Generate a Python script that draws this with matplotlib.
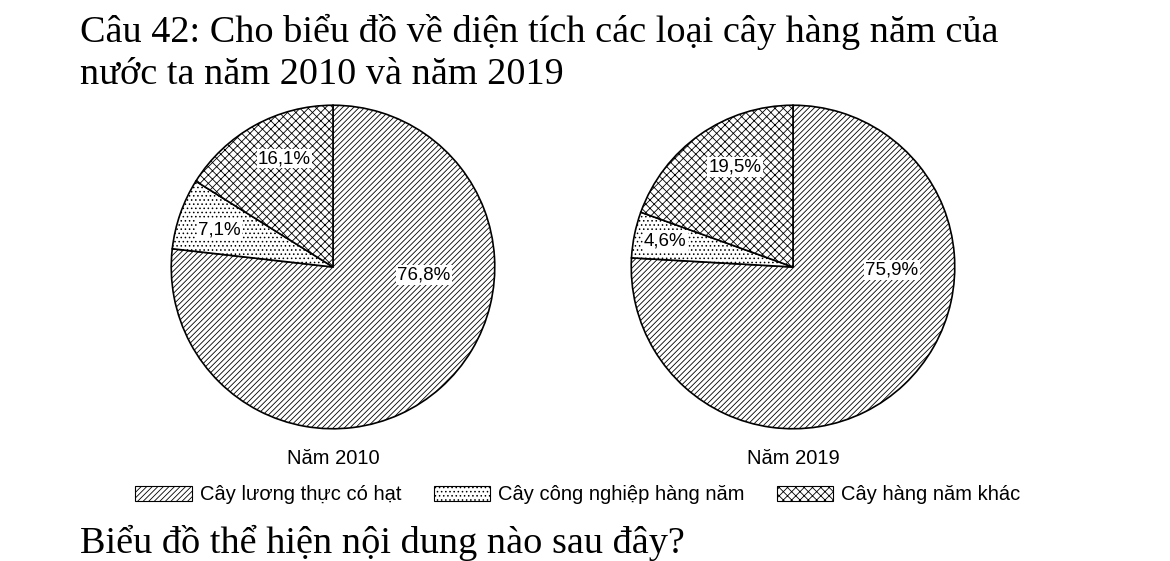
import matplotlib.pyplot as plt
import matplotlib.patches as mpatches

plt.rcParams['hatch.linewidth'] = 0.6

categories = ['Cây lương thực có hạt', 'Cây công nghiệp hàng năm', 'Cây hàng năm khác']
years = ['Năm 2010', 'Năm 2019']
values_2010 = [76.8, 7.1, 16.1]
values_2019 = [75.9, 4.6, 19.5]
labels_2010 = ['76,8%', '7,1%', '16,1%']
labels_2019 = ['75,9%', '4,6%', '19,5%']

hatches = ['//////', '....', 'xxxx']
# label positions in pie radius units
label_pos_2010 = [(0.56, -0.05), (-0.70, 0.23), (-0.30, 0.67)]
label_pos_2019 = [(0.61, -0.02), (-0.79, 0.16), (-0.36, 0.62)]

fig = plt.figure(figsize=(11.7, 5.61), dpi=100)

fig.text(80 / 1170, 1 - 32 / 561, 'Câu 42: Cho biểu đồ về diện tích các loại cây hàng năm của',
         family='Liberation Serif', fontsize=27.5, va='center')
fig.text(80 / 1170, 1 - 75 / 561, 'nước ta năm 2010 và năm 2019',
         family='Liberation Serif', fontsize=27.5, va='center')
fig.text(80 / 1170, 1 - 543 / 561, 'Biểu đồ thể hiện nội dung nào sau đây?',
         family='Liberation Serif', fontsize=27.5, va='center')

centers = [333, 793]
r_px = 165
data = [(values_2010, labels_2010, label_pos_2010), (values_2019, labels_2019, label_pos_2019)]
for cx, year, (vals, labs, pos) in zip(centers, years, data):
    ax = fig.add_axes([(cx - r_px) / 1170, (561 - 267 - r_px) / 561, 2 * r_px / 1170, 2 * r_px / 561])
    wedges, _ = ax.pie(vals, startangle=90, counterclock=False, colors=['white'] * 3,
                       wedgeprops=dict(edgecolor='black', linewidth=1.2))
    for w, h in zip(wedges, hatches):
        w.set_hatch(h)
    for lab, (x, y) in zip(labs, pos):
        ax.text(x, y, lab, ha='center', va='center', family='Liberation Sans', fontsize=13.5,
                bbox=dict(facecolor='white', edgecolor='none', pad=1))
    ax.set_xlim(-1.02, 1.02)
    ax.set_ylim(-1.02, 1.02)
    ax.set_aspect('equal')
    fig.text(cx / 1170, 1 - 458 / 561, year, ha='center', va='center',
             family='Liberation Sans', fontsize=14.5)

handles = [mpatches.Rectangle((0, 0), 1, 1, facecolor='white', edgecolor='black', hatch=h, lw=0.8)
           for h in hatches]
fig.legend(handles, categories, loc='center', bbox_to_anchor=(0.494, 1 - 495 / 561), ncol=3,
           frameon=False, prop=dict(family='Liberation Sans', size=14.5),
           handlelength=2.8, handletextpad=0.4, columnspacing=1.6)

fig.savefig('out.png', dpi=100)
